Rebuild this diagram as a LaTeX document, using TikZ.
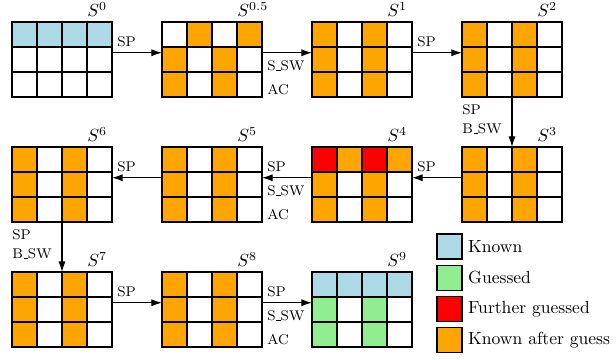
\documentclass[tikz,border=0pt]{standalone}
\usepackage{tikz}
\usetikzlibrary{arrows.meta}

\definecolor{knowncol}{RGB}{173,216,230}
\definecolor{guesscol}{RGB}{144,238,144}
\definecolor{furthercol}{RGB}{255,0,0}
\definecolor{aftercol}{RGB}{255,165,0}

\newcommand{\lowbar}{\leavevmode\kern.06em\vbox{\hrule width .3em}}

\tikzset{
  statebox/.style={minimum width=2cm, minimum height=1.5cm, inner sep=0pt, outer sep=0pt, anchor=south west},
  cellgrid/.style={semithick},
  flow/.style={semithick, -{Latex[length=6pt,width=4pt]}},
  oplabel/.style={font=\footnotesize, anchor=base west, inner sep=0pt},
  statename/.style={anchor=base west, inner sep=0pt},
  legbox/.style={draw, semithick, minimum size=0.5cm, inner sep=0pt, outer sep=0pt}
}

\begin{document}
\begin{tikzpicture}
\useasboundingbox (-0.24,-5.26) rectangle (12.08,1.94);

\foreach \g/\x/\y in {s0/0/0, s05/3/0, s1/6/0, s2/9/0, s3/9/-2.5, s4/6/-2.5, s5/3/-2.5, s6/0/-2.5, s7/0/-5, s8/3/-5, s9/6/-5}
\node[statebox] (\g) at (\x,\y) {};

\fill[knowncol] ([yshift=1cm]s0.south west) rectangle (s0.north east);
\fill[knowncol] ([yshift=1cm]s9.south west) rectangle (s9.north east);
\foreach \x in {0,1}
\fill[guesscol] ([xshift=\x cm]s9.south west) rectangle +(0.5,1);
\foreach \x in {0,1}
\fill[aftercol] ([xshift=\x cm]s05.south west) rectangle +(0.5,1);
\foreach \x in {0.5,1.5}
\fill[aftercol] ([xshift=\x cm,yshift=1cm]s05.south west) rectangle +(0.5,0.5);
\foreach \g in {s1,s2,s3,s5,s6,s7,s8}
\foreach \x in {0,1}
\fill[aftercol] ([xshift=\x cm]\g.south west) rectangle +(0.5,1.5);
\foreach \x in {0,1}
\fill[aftercol] ([xshift=\x cm]s4.south west) rectangle +(0.5,1);
\foreach \x/\col in {0/furthercol,0.5/aftercol,1/furthercol,1.5/aftercol}
\fill[\col] ([xshift=\x cm,yshift=1cm]s4.south west) rectangle +(0.5,0.5);

\foreach \g in {s0,s05,s1,s2,s3,s4,s5,s6,s7,s8,s9}
\draw[cellgrid] (\g.south west) grid[step=0.5] (\g.north east) rectangle (\g.south west);

\foreach \g/\k in {s0/0, s05/0.5, s1/1, s2/2, s3/3, s4/4, s5/5, s6/6, s7/7, s8/8, s9/9}
\node[statename] (n\g) at ([xshift=1.5cm,yshift=0.11cm]\g.north west) {$S^{\k}$};

\foreach \src/\dst in {s0/s05, s05/s1, s1/s2, s7/s8, s8/s9}
\draw[flow] ([yshift=0.135cm]\src.east) -- ([yshift=0.135cm]\dst.west);
\foreach \src/\dst in {s3/s4, s4/s5, s5/s6}
\draw[flow] ([yshift=0.135cm]\src.west) -- ([yshift=0.135cm]\dst.east);
\draw[flow] (s2.south) -- (s3.north);
\draw[flow] (s6.south) -- (s7.north);

\foreach \g/\dy/\txt [count=\i] in {s0/0.5/SP, s05/0.98/S\lowbar SW, s05/1.46/AC, s1/0.5/SP, s4/0.5/SP, s5/0.5/SP, s5/0.98/S\lowbar SW, s5/1.46/AC, s6/0.5/SP, s7/0.5/SP, s8/0.5/SP, s8/0.98/S\lowbar SW, s8/1.46/AC}
\node[oplabel] (op\i) at ([xshift=0.1cm,yshift=-\dy cm]\g.north east) {\txt};
\foreach \g/\dy/\txt [count=\i] in {s2/0.36/SP, s2/0.74/B\lowbar SW, s6/0.36/SP, s6/0.74/B\lowbar SW}
\node[oplabel] (bop\i) at ([yshift=-\dy cm]\g.south west) {\txt};

\foreach \nm/\col/\txt/\y in {lk/knowncol/Known/-2.99, lg/guesscol/Guessed/-3.615, lf/furthercol/Further guessed/-4.24, la/aftercol/Known after guess/-4.865}
{
\node[legbox, fill=\col] (\nm) at (8.75,\y) {};
\node[right] (\nm txt) at (\nm.east) {\txt};
}

\end{tikzpicture}
\end{document}
